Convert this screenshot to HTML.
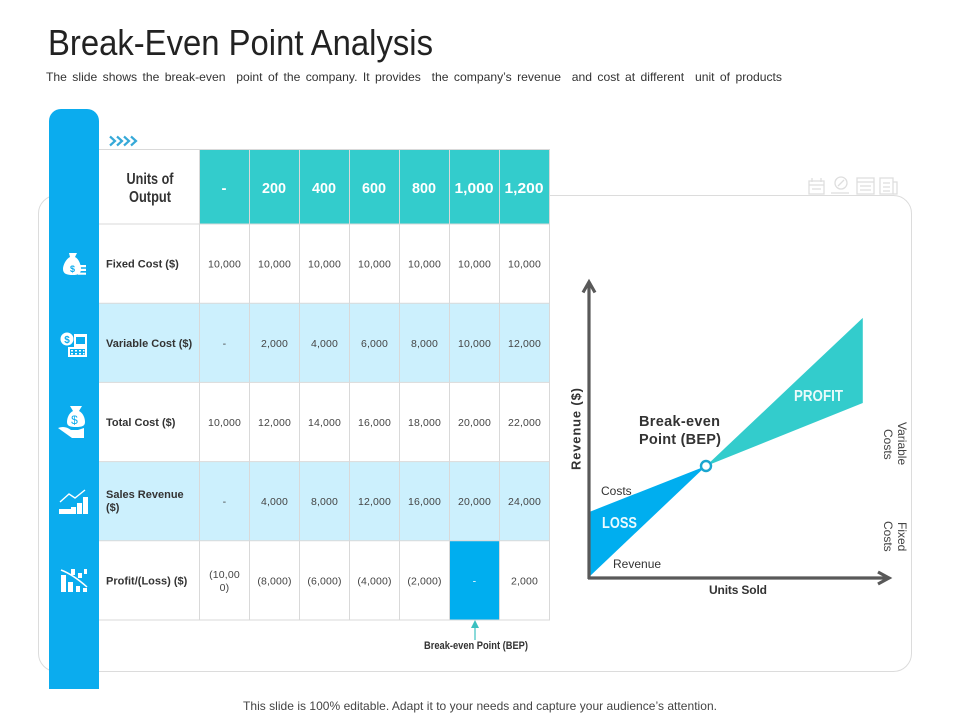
<!DOCTYPE html>
<html lang="en">
<head>
<meta charset="utf-8">
<title>Break-Even Point Analysis</title>
<style>
html,body{margin:0;padding:0;background:#fff;width:960px;height:720px;overflow:hidden}
svg{display:block;font-family:"Liberation Sans",sans-serif}
</style>
</head>
<body>
<svg id="s" width="960" height="720" viewBox="0 0 960 720">
  <text x="48" y="55" font-size="36" fill="#222" textLength="385" lengthAdjust="spacingAndGlyphs">Break-Even Point Analysis</text>
  <text x="46" y="81" font-size="12" fill="#333" word-spacing="2" style="white-space:pre" textLength="736" lengthAdjust="spacingAndGlyphs">The slide shows the break-even  point of the company. It provides  the company’s revenue  and cost at different  unit of products</text>

  <rect x="38.5" y="195.5" width="873" height="476" rx="18" fill="#fff" stroke="#dcdcdc"/>

  <g fill="none" stroke="#dedede" stroke-width="1.3">
    <rect x="809" y="181" width="15" height="13"/><path d="M809 185h15M812 178v4M821 178v4M812 189h9"/>
    <circle cx="841" cy="183" r="6"/><path d="M831 193h18M838 186l6-6"/>
    <rect x="857" y="178" width="17" height="16"/><path d="M857 182h17M860 186h11M860 190h11"/>
    <rect x="880" y="178" width="13" height="16"/><path d="M893 182h4v12h-4M883 183h7M883 187h7M883 191h7"/>
  </g>

  <path d="M49 689V121a12 12 0 0 1 12-12h26a12 12 0 0 1 12 12V689Z" fill="#0bacee"/>

  <g fill="none" stroke="#36a9d8" stroke-width="2.2">
    <path d="M110 136.500l5 4.500-5 4.500M117 136.500l5 4.500-5 4.500M124 136.500l5 4.500-5 4.500M131 136.500l5 4.500-5 4.500"/>
  </g>

  <g id="table"></g>

  <g fill="#fff">
    <g>
      <path d="M69 253h8l-2 4c4 2 6 8 6 12 0 5-3 6-8 6-6 0-10-1-10-6 0-4 3-10 7-12Z"/>
      <path d="M78 265h8v2.200h-8zM78 268.800h8v2.200h-8zM78 272.600h8v2.200h-8z"/>
      <text x="72.500" y="272" text-anchor="middle" font-size="9" font-weight="700" fill="#0bacee">$</text>
    </g>
    <g>
      <path d="M74 334h13v23H68v-10h6Z"/>
      <path d="M70 349h15v6H70Z" fill="#0bacee"/>
      <path d="M71 350h2v1.500h-2zM75 350h2v1.500h-2zM79 350h2v1.500h-2zM83 350h1.500v1.500H83zM71 353h2v1.500h-2zM75 353h2v1.500h-2zM79 353h2v1.500h-2zM83 353h1.500v1.500H83z"/>
      <path d="M76 337h9v7h-9z" fill="#0bacee"/>
      <circle cx="67" cy="339" r="6.500"/>
      <text x="67" y="343" text-anchor="middle" font-size="10" font-weight="700" fill="#0bacee">$</text>
    </g>
    <g>
      <path d="M70 406h12l-3 5c4 2 6 7 6 11 0 4-3 5-9 5s-9-1-9-5c0-4 2-9 6-11Z"/>
      <text x="74.500" y="424" text-anchor="middle" font-size="12" fill="#0bacee">$</text>
      <path d="M58 428c5-2 9-1 13 2h7l6-2v10h-4l-3 0H72Z"/>
    </g>
    <g>
      <path d="M59 509h12v5h-12zM71 507h5v7h-5zM77 503h5v11h-5zM83 497h5v17h-5z"/>
      <path d="M60 502l9-8 6 4 10-8" fill="none" stroke="#fff" stroke-width="1.4"/>
    </g>
    <g>
      <path d="M61 575h5v17h-5zM68 582h5v10h-5zM76 586h4v6h-4zM83 588h4v4h-4z"/>
      <path d="M61 570c8 3 17 9 26 17" fill="none" stroke="#fff" stroke-width="1.5"/>
      <path d="M71 569h4v6h-4zM78 573h4v5h-4zM84 569h3v5h-3z"/>
    </g>
  </g>

  <path d="M475 640V624" stroke="#3cc0c0" stroke-width="1.2" fill="none"/>
  <path d="M475 620l-4 8h8Z" fill="#3cc0c0"/>
  <text x="424" y="649" font-size="11" font-weight="700" fill="#333" textLength="104" lengthAdjust="spacingAndGlyphs">Break-even Point (BEP)</text>

  <g id="chart"></g>

  <text x="480" y="710" text-anchor="middle" font-size="12" fill="#444" textLength="474" lengthAdjust="spacing">This slide is 100% editable. Adapt it to your needs and capture your audience’s attention.</text>
</svg>

<script>
var unitHeaders = ['-', '200', '400', '600', '800', '1,000', '1,200'];
var rowLabels = [['Fixed Cost ($)'], ['Variable Cost ($)'], ['Total Cost ($)'], ['Sales Revenue', '($)'], ['Profit/(Loss) ($)']];
var fixedCost = ['10,000', '10,000', '10,000', '10,000', '10,000', '10,000', '10,000'];
var variableCost = ['-', '2,000', '4,000', '6,000', '8,000', '10,000', '12,000'];
var totalCost = ['10,000', '12,000', '14,000', '16,000', '18,000', '20,000', '22,000'];
var salesRevenue = ['-', '4,000', '8,000', '12,000', '16,000', '20,000', '24,000'];
var profitLoss = [['(10,00', '0)'], '(8,000)', '(6,000)', '(4,000)', '(2,000)', '-', '2,000'];
var chartUnits = [0, 1000, 2340];
var chartRevenue = [0, 20000, 46700];
var chartCosts = [11700, 20000, 31350];

var NS = 'http://www.w3.org/2000/svg';
function make(parent, tag, attrs) {
  var el = document.createElementNS(NS, tag);
  for (var k in attrs) el.setAttribute(k, attrs[k]);
  parent.appendChild(el);
  return el;
}
function label(parent, str, attrs) {
  var el = make(parent, 'text', attrs);
  el.textContent = str;
  return el;
}

/* table */
var table = document.getElementById('table');
var rows = [fixedCost, variableCost, totalCost, salesRevenue, profitLoss];
var left = 99, firstW = 100, colW = 50, headTop = 150, headBottom = 224, rowH = 79.2;
function colX(i) { return left + firstW + colW * i; }
function rowY(r) { return headBottom + rowH * r; }
var right = colX(unitHeaders.length);
var bottom = rowY(rows.length);

var tableBg = make(table, 'rect', {x: left, y: headTop, width: right - left, height: bottom - headTop, fill: '#fff'});



rows.forEach(function (vals, r) {
  if (r % 2 === 1) {
    var band = make(table, 'rect', {x: left, y: rowY(r), width: right - left, height: rowH, fill: '#ccf0fd'});
    
    
  }
});

unitHeaders.forEach(function (h, i) {
  var cell = make(table, 'rect', {x: colX(i) + .5, y: headTop, width: colW, height: headBottom - headTop, fill: '#33cccc'});
  
  
});

var bep = make(table, 'rect', {x: colX(5) + .5, y: rowY(4), width: colW, height: rowH, fill: '#00aeef'});



var gridD = '';
for (var c = 0; c <= unitHeaders.length; c++) gridD += 'M' + (colX(c) + .5) + ' ' + headTop + 'V' + bottom;
gridD += 'M' + left + ' ' + (headTop - .5) + 'H' + (right + 1);
for (var r = 0; r <= rows.length; r++) gridD += 'M' + left + ' ' + rowY(r) + 'H' + (right + 1);
var grid = make(table, 'path', {d: gridD, stroke: '#d9d9d9', 'stroke-width': 1, fill: 'none'});



var h1 = label(table, 'Units of', {x: 150, y: 184, 'text-anchor': 'middle', 'font-size': 15.5, 'font-weight': 700, fill: '#333', textLength: 47, lengthAdjust: 'spacingAndGlyphs'});


var h2 = label(table, 'Output', {x: 150, y: 202, 'text-anchor': 'middle', 'font-size': 15.5, 'font-weight': 700, fill: '#333', textLength: 42, lengthAdjust: 'spacingAndGlyphs'});



unitHeaders.forEach(function (h, i) {
  var t = label(table, h, {x: colX(i) + colW / 2, y: 193, 'text-anchor': 'middle', 'font-size': 15, 'font-weight': 700, fill: '#fff'});
  if (h.length > 1) {
    t.setAttribute('textLength', h.length > 4 ? 39 : 24);
    t.setAttribute('lengthAdjust', 'spacingAndGlyphs');
  }
  
  
});

rowLabels.forEach(function (lines, r) {
  var mid = rowY(r) + rowH / 2;
  lines.forEach(function (line, k) {
    var y = lines.length === 1 ? mid + 4 : mid - 3 + k * 13;
    var t = label(table, line, {x: 106, y: y, 'font-size': 11, 'font-weight': 700, fill: '#333'});
    
    
  });
});

rows.forEach(function (vals, r) {
  var mid = rowY(r) + rowH / 2;
  vals.forEach(function (v, i) {
    var cx = colX(i) + colW / 2 + .5;
    var lines = Array.isArray(v) ? v : [v];
    lines.forEach(function (line, k) {
      var y = lines.length === 1 ? mid + 4 : mid - 2.5 + k * 13;
      var t = label(table, line, {x: cx, y: y, 'text-anchor': 'middle', 'font-size': 10.5, 'letter-spacing': .15, fill: (r === 4 && i === 5) ? '#fff' : '#444'});
      
      
    });
  });
});

/* chart */
var chart = document.getElementById('chart');
var originX = 589, originY = 577;
function xScale(u) { return originX + u * 0.117; }
function yScale(v) { return originY - v * 0.00555; }
function pt(u, v) { return xScale(u) + ',' + yScale(v); }

var loss = make(chart, 'polygon', {
  points: [pt(chartUnits[0], chartCosts[0]), pt(chartUnits[1], chartCosts[1]), pt(chartUnits[0], chartRevenue[0])].join(' '),
  fill: '#00aeef'
});



var profit = make(chart, 'polygon', {
  points: [pt(chartUnits[1], chartRevenue[1]), pt(chartUnits[2], chartRevenue[2]), pt(chartUnits[2], chartCosts[2])].join(' '),
  fill: '#33cccc'
});



var yAxis = make(chart, 'path', {d: 'M589 579V283M583 292.5L589 282L595 292.5', stroke: '#595959', 'stroke-width': 3.2, fill: 'none'});


var xAxis = make(chart, 'path', {d: 'M588 578H888M878 572L889 578L878 584', stroke: '#595959', 'stroke-width': 3.2, fill: 'none'});



var bepPoint = make(chart, 'circle', {cx: xScale(chartUnits[1]), cy: yScale(chartRevenue[1]), r: 5, fill: '#fff', stroke: '#1ba6cf', 'stroke-width': 2.4});



var yTitle = label(chart, 'Revenue ($)', {transform: 'translate(580.500 470) rotate(-90)', 'font-size': 13, 'font-weight': 700, fill: '#333', textLength: 82, lengthAdjust: 'spacing'});


var xTitle = label(chart, 'Units Sold', {x: 709, y: 594, 'font-size': 12, 'font-weight': 700, fill: '#333', textLength: 58, lengthAdjust: 'spacing'});


var b1 = label(chart, 'Break-even', {x: 639, y: 426, 'font-size': 14.5, 'font-weight': 700, fill: '#333', textLength: 81, lengthAdjust: 'spacing'});


var b2 = label(chart, 'Point (BEP)', {x: 639, y: 444, 'font-size': 14.5, 'font-weight': 700, fill: '#333', textLength: 82, lengthAdjust: 'spacing'});


var costsL = label(chart, 'Costs', {x: 601, y: 495, 'font-size': 12, fill: '#333'});


var revL = label(chart, 'Revenue', {x: 613, y: 568, 'font-size': 12, fill: '#333'});


var lossL = label(chart, 'LOSS', {x: 602, y: 528, 'font-size': 15.5, 'font-weight': 700, fill: '#eafaff', textLength: 35, lengthAdjust: 'spacingAndGlyphs'});


var profL = label(chart, 'PROFIT', {x: 794, y: 401, 'font-size': 15.5, 'font-weight': 700, fill: '#eafafa', textLength: 49, lengthAdjust: 'spacingAndGlyphs'});



var sideLabels = [['Variable', 898, 422], ['Costs', 884, 429], ['Fixed', 898, 522], ['Costs', 884, 521]];
sideLabels.forEach(function (s) {
  var t = label(chart, s[0], {transform: 'translate(' + s[1] + ' ' + s[2] + ') rotate(90)', 'font-size': 12, fill: '#444'});
  
  
});
</script>
</body>
</html>
